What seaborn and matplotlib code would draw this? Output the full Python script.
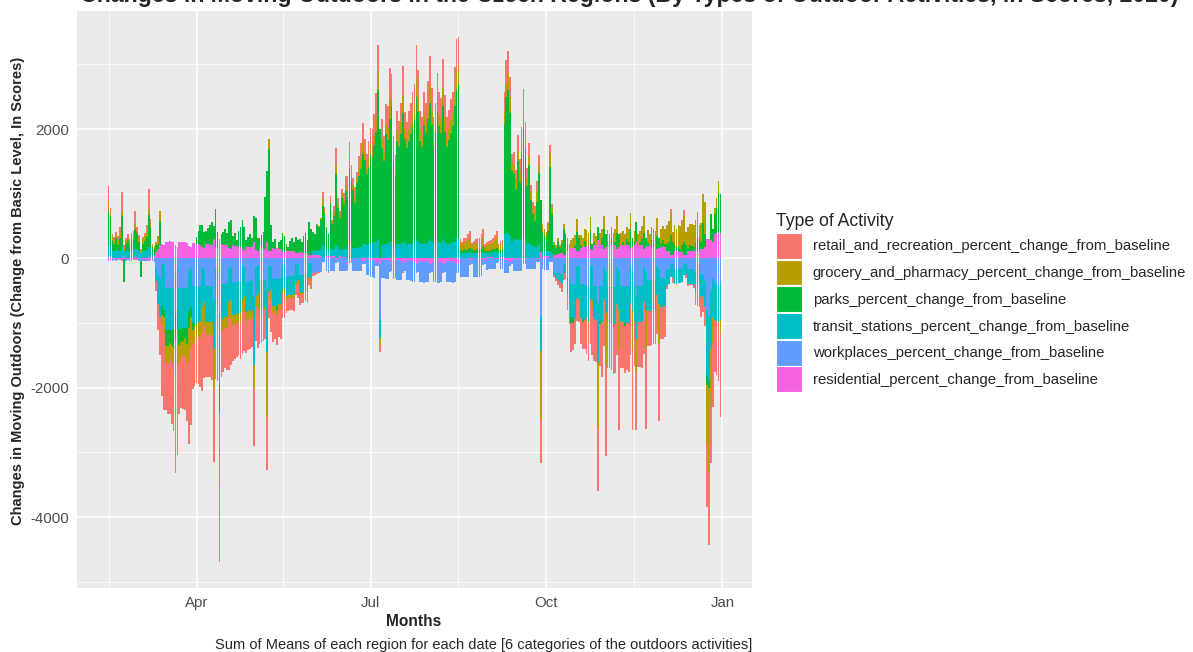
#!/usr/bin/env python
# -*- coding: utf-8 -*-

import numpy as np
import pandas as pd
import matplotlib
matplotlib.use("Agg")
import matplotlib.pyplot as plt
import matplotlib.dates as mdates
from matplotlib.patches import Patch
import seaborn

# daily dates: Sat 15 Feb 2020 .. Thu 31 Dec 2020
dates = pd.date_range("2020-02-15", "2020-12-31", freq="D")

categories = [
    "retail_and_recreation_percent_change_from_baseline",
    "grocery_and_pharmacy_percent_change_from_baseline",
    "parks_percent_change_from_baseline",
    "transit_stations_percent_change_from_baseline",
    "workplaces_percent_change_from_baseline",
    "residential_percent_change_from_baseline",
]
colors = ["#F8766D", "#B79F00", "#00BA38", "#00BFC4", "#619CFF", "#F564E3"]

# first row: Sat/Sun 15-16 Feb, then one row per week (Mon..Sun), last row Mon-Thu 28-31 Dec
retail = [
    280, 100,
    40, 50, 30, 60, 80, 280, 60,
    30, 40, 50, 40, 70, 200, 60,
    40, 20, 40, 50, 90, 300, 80,
    20, 0, -150, -400, -600, -1100, -1200,
    -750, -800, -850, -950, -1000, -1500, -1400,
    -800, -780, -800, -850, -900, -1300, -1200,
    -700, -700, -700, -720, -750, -900, -800,
    -650, -650, -650, -700, -1150, -850, -800,
    -1170, -700, -650, -620, -650, -800, -700,
    -550, -550, -530, -520, -550, -650, -600,
    -500, -480, -470, -470, -900, -550, -600,
    -450, -440, -430, -450, -820, -400, -500,
    -450, -430, -450, -420, -450, -380, -350,
    -200, -200, -190, -190, -200, -180, -200,
    -150, -140, -140, -130, -150, -100, -120,
    -50, -40, -30, -20, 0, 100, 50,
    0, -20, 50, 20, 80, 250, 100,
    50, 80, 100, 150, 200, 250, 150,
    100, 150, 100, 200, 250, 300, 200,
    200, 250, 250, 300, 300, 350, 400,
    -100, 300, 250, 300, 350, 500, 300,
    250, 200, 300, 250, 300, 450, 250,
    250, 300, 300, 350, 350, 500, 400,
    300, 300, 350, 300, 400, 450, 350,
    300, 300, 400, 350, 350, 450, 350,
    300, 300, 350, 350, 400, 500, 450,
    60, 50, 60, 70, 90, 120, 40,
    50, 60, 60, 70, 90, 130, 40,
    40, 50, 50, 60, 80, 120, 40,
    40, 50, 300, 350, 350, 300, 150,
    200, 150, 250, 200, 250, 350, 250,
    150, 200, 100, 80, 100, 150, 150,
    -680, 20, 0, 0, 30, 150, 50,
    -30, -50, -80, -100, -120, -100, -100,
    -250, -350, -450, -420, -400, -350, -380,
    -400, -420, -450, -550, -600, -700, -750,
    -650, -650, -1000, -650, -850, -700, -1400,
    -700, -700, -720, -720, -750, -800, -1250,
    -700, -700, -720, -720, -750, -800, -1250,
    -700, -900, -700, -700, -720, -800, -1250,
    -550, -550, -540, -530, -530, -600, -1200,
    -500, -500, -480, -50, 0, 50, -100,
    0, -20, 0, 20, 50, 100, -50,
    -30, -20, -20, -50, -200, -300, -350,
    -300, -250, -300, -1000, -1130, -860, -1000,
    -800, -850, -900, -1300,
]

grocery = [
    100, 40,
    60, 50, 60, 70, 90, 80, 30,
    50, 60, 50, 60, 80, 80, 30,
    60, 40, 60, 70, 100, 100, 40,
    40, 50, 60, 150, 150, -150, -250,
    -250, -250, -250, -260, -280, -550, -550,
    -260, -250, -250, -260, -280, -500, -480,
    -220, -220, -220, -230, -250, -400, -380,
    -200, -200, -200, -200, -600, -300, -400,
    -1150, -200, -180, -170, -180, -250, -300,
    -150, -140, -140, -130, -150, -200, -250,
    -130, -120, -120, -110, -350, -150, -250,
    -100, -100, -90, -50, -1000, 150, -150,
    -100, -90, -100, -90, -100, -50, -120,
    -60, -50, -50, -50, -60, -30, -80,
    -40, -30, -30, -30, -40, 0, -60,
    0, 10, 10, 20, 40, 120, 60,
    20, 10, 60, 40, 80, 150, 60,
    50, 60, 70, 90, 120, 150, 100,
    80, 100, 80, 120, 150, 180, 120,
    120, 140, 150, 150, 180, 250, 300,
    -120, 150, 140, 160, 180, 300, 200,
    150, 120, 160, 150, 180, 280, 180,
    150, 160, 170, 180, 200, 300, 250,
    160, 160, 180, 170, 200, 280, 220,
    160, 170, 200, 180, 190, 280, 220,
    160, 170, 180, 180, 200, 300, 250,
    110, 100, 110, 120, 140, 150, 60,
    110, 110, 110, 120, 140, 160, 60,
    100, 100, 110, 110, 130, 150, 60,
    100, 110, 200, 220, 250, 250, 120,
    150, 130, 160, 150, 180, 250, 180,
    130, 150, 120, 110, 130, 180, 130,
    -1060, 100, 100, 100, 120, 200, 100,
    50, 40, 40, 30, 50, 80, 40,
    100, 100, 120, 150, 150, 200, 50,
    150, 150, 180, 250, 200, 200, -100,
    150, 150, -1000, 200, 150, 200, -800,
    180, 170, 170, 180, 200, 250, -600,
    180, 170, 170, 180, 200, 250, -600,
    180, -500, 170, 180, 200, 250, -600,
    200, 190, 200, 220, 250, 280, -600,
    220, 220, 230, 300, 320, 350, 150,
    300, 300, 320, 330, 350, 400, 200,
    320, 330, 340, 350, 350, 400, 200,
    300, 450, 500, -900, -1300, -900, -400,
    100, 150, 200, -200,
]

parks = [
    550, 450,
    150, 120, 200, 100, 180, 480, -360,
    120, 150, 100, 180, 160, 300, 250,
    150, -250, 120, 150, 200, 500, 350,
    100, 80, 100, 50, 380, -150, -100,
    -250, -250, -200, -250, -300, -400, -300,
    -250, -200, -200, -150, -250, -250, -150,
    -100, -50, 100, 200, 300, 350, 250,
    200, 250, 300, 350, 200, 600, 250,
    -420, 150, 200, 250, 200, 400, 450,
    150, 200, 100, 250, 300, 450, 350,
    100, 150, 200, 150, 400, 500, 200,
    150, 200, 250, 800, 1100, 1570, 400,
    100, 150, -50, 100, 150, 300, 250,
    100, 50, 150, 200, 150, 250, 200,
    200, 150, 250, 300, 200, 500, 400,
    300, 250, 400, 350, 450, 600, 500,
    350, 250, 700, 400, 500, 1100, 600,
    500, 800, 700, 900, 800, 1200, 1000,
    900, 700, 1000, 1100, 1200, 1400, 1300,
    1100, 1200, 1400, 1300, 1500, 1700, 2300,
    2000, 1500, 1300, 1700, 1600, 1900, 2100,
    1300, 1100, 1600, 1500, 1700, 2000, 1600,
    1500, 1600, 1700, 1800, 1900, 2200, 2000,
    1600, 1500, 1800, 1700, 1900, 2100, 1800,
    1500, 1700, 2000, 1800, 1700, 2050, 1700,
    1500, 1600, 1700, 1800, 2100, 2300, 2400,
    40, 30, 50, 40, 60, 60, 50,
    30, 40, 50, 40, 60, 70, 40,
    30, 30, 40, 40, 50, 60, 50,
    40, 30, 1700, 2100, 2200, 1900, 1100,
    1000, 800, 1200, 900, 1300, 1700, 1400,
    900, 1200, 700, 500, 400, 700, 1100,
    800, 300, 250, 200, 300, 1300, 600,
    150, 100, 200, 100, 150, 400, 300,
    100, 0, -100, -80, 50, 300, 200,
    50, -50, 100, 0, -50, 300, 100,
    50, 0, 200, -50, 100, 300, 200,
    50, 0, 100, -50, 50, 250, 200,
    0, 50, -50, 100, 50, 300, 150,
    50, 300, 0, 50, 100, 250, 150,
    50, 0, 100, 50, 0, 200, 150,
    50, 100, 50, 100, 150, 300, 200,
    100, 50, 80, 50, 100, 200, 150,
    50, 100, 80, 50, 100, 200, 200,
    100, 400, 200, -150, -100, 400, 200,
    300, 400, 600, 600,
]

transit = [
    150, 150,
    120, 110, 120, 110, 130, 140, 80,
    110, 120, 100, 120, 120, 120, 100,
    110, 80, 110, 120, 130, 130, 100,
    60, 30, -200, -450, -600, -650, -700,
    -650, -660, -650, -650, -650, -660, -620,
    -640, -640, -630, -630, -640, -640, -600,
    -570, -570, -570, -560, -570, -580, -530,
    -560, -560, -560, -560, -750, -560, -540,
    -1100, -540, -530, -520, -520, -520, -500,
    -500, -500, -490, -480, -490, -480, -450,
    -470, -460, -460, -450, -1050, -450, -420,
    -440, -430, -430, -420, -1000, -400, -380,
    -420, -410, -420, -400, -400, -380, -350,
    -300, -300, -290, -290, -290, -270, -250,
    -280, -270, -270, -260, -260, -230, -220,
    50, 60, 70, 80, 100, 200, 180,
    80, 70, 120, 100, 120, 200, 180,
    100, 120, 120, 130, 150, 200, 200,
    150, 150, 160, 170, 180, 220, 220,
    200, 220, 220, 250, 250, 250, 300,
    -300, 200, 200, 220, 230, 250, 250,
    200, 180, 220, 220, 230, 250, 240,
    210, 220, 230, 240, 250, 300, 260,
    220, 220, 240, 230, 250, 300, 260,
    220, 230, 260, 250, 240, 300, 260,
    220, 230, 240, 250, 260, 300, 320,
    80, 70, 80, 80, 90, 100, 90,
    70, 80, 80, 80, 90, 100, 80,
    60, 70, 70, 80, 90, 100, 80,
    70, 80, 380, 400, 400, 350, 250,
    300, 280, 300, 280, 300, 320, 280,
    220, 240, 200, 180, 170, 170, 220,
    -530, 100, 80, 80, 90, 100, 80,
    -50, -80, -100, -120, -150, -150, -150,
    -250, -350, -500, -520, -530, -500, -500,
    -520, -530, -540, -500, -500, -500, -530,
    -520, -530, -900, -540, -550, -520, -650,
    -560, -560, -570, -570, -580, -560, -600,
    -560, -560, -570, -570, -570, -550, -600,
    -550, -650, -560, -560, -560, -540, -600,
    -480, -480, -470, -470, -470, -450, -550,
    -450, -450, -440, -250, -230, -200, -200,
    -220, -220, -210, -210, -200, -180, -180,
    -220, -220, -220, -230, -300, -350, -320,
    -350, -330, -400, -1000, -1000, -900, -600,
    -550, -560, -570, -550,
]

workplaces = [
    40, 40,
    -30, -20, -30, -20, -10, 40, 30,
    -30, -20, -30, -30, -20, 30, 40,
    -30, -40, -30, -30, -20, 40, 40,
    -40, -60, -150, -250, -300, -80, -100,
    -450, -450, -460, -450, -440, -200, -170,
    -450, -450, -450, -450, -440, -180, -150,
    -430, -430, -430, -430, -420, -170, -140,
    -420, -420, -420, -420, -650, -160, -150,
    -850, -400, -400, -390, -380, -150, -140,
    -380, -370, -370, -370, -360, -140, -130,
    -360, -350, -350, -340, -600, -130, -120,
    -340, -340, -330, -330, -450, -120, -110,
    -320, -320, -320, -310, -300, -110, -100,
    -280, -270, -270, -270, -260, -90, -80,
    -250, -250, -250, -240, -240, -80, -70,
    -220, -220, -210, -210, -210, -60, -60,
    -200, -200, -200, -190, -190, -50, -50,
    -190, -190, -190, -190, -180, -40, -40,
    -190, -190, -190, -190, -180, -40, -40,
    -250, -250, -260, -260, -270, -60, -60,
    -850, -280, -280, -290, -290, -150, -140,
    -300, -300, -300, -310, -300, -150, -140,
    -310, -310, -310, -320, -320, -150, -140,
    -320, -320, -330, -320, -320, -150, -140,
    -320, -330, -330, -330, -320, -150, -140,
    -320, -330, -330, -330, -320, -150, -140,
    -290, -290, -290, -290, -280, -80, -70,
    -280, -280, -280, -280, -270, -80, -70,
    -180, -170, -170, -170, -160, -60, -50,
    -160, -160, -200, -200, -190, -60, -50,
    -180, -180, -180, -180, -170, -50, -50,
    -170, -170, -170, -170, -160, -50, -50,
    -900, -170, -180, -180, -180, -50, -50,
    -200, -220, -230, -240, -250, -80, -70,
    -300, -320, -400, -400, -400, -120, -110,
    -400, -400, -410, -420, -430, -130, -120,
    -420, -420, -700, -430, -430, -130, -200,
    -440, -440, -440, -440, -440, -140, -200,
    -430, -430, -430, -430, -430, -140, -200,
    -420, -600, -420, -420, -420, -140, -190,
    -330, -330, -330, -330, -320, -120, -160,
    -300, -300, -300, -180, -170, -80, -80,
    -170, -170, -170, -170, -160, -70, -80,
    -170, -170, -170, -180, -220, -80, -80,
    -250, -250, -350, -800, -900, -500, -300,
    -400, -400, -420, -400,
]

residential = [
    -40, -30,
    -10, -10, -10, -10, -20, -40, -10,
    -10, -10, -10, -10, -10, -30, -20,
    -10, 0, -10, -10, -20, -40, -20,
    10, 30, 100, 150, 200, 220, 200,
    260, 260, 270, 260, 250, 200, 180,
    260, 250, 250, 250, 240, 190, 170,
    240, 240, 230, 220, 210, 170, 160,
    220, 220, 210, 210, 300, 170, 160,
    300, 220, 210, 200, 200, 160, 150,
    200, 190, 190, 180, 180, 140, 130,
    180, 180, 170, 170, 260, 130, 120,
    170, 160, 160, 150, 250, 120, 110,
    160, 150, 160, 150, 140, 100, 100,
    130, 120, 120, 120, 110, 80, 80,
    100, 100, 90, 90, 90, 60, 50,
    60, 60, 50, 50, 40, 10, 0,
    40, 50, 30, 40, 30, -20, -10,
    30, 20, 20, 10, 0, -30, -30,
    10, 10, 0, 0, -10, -40, -40,
    0, -10, -20, -20, -30, -50, -60,
    -80, -20, -20, -30, -30, -60, -60,
    -20, -10, -30, -30, -40, -70, -60,
    -30, -30, -40, -40, -50, -80, -70,
    -40, -40, -50, -40, -50, -80, -70,
    -40, -40, -50, -50, -50, -80, -70,
    -40, -40, -40, -50, -50, -80, -80,
    10, 10, 10, 10, 0, -20, -20,
    10, 10, 10, 10, 0, -20, -20,
    20, 20, 20, 20, 10, -10, -10,
    20, 20, -30, -30, -40, -50, -40,
    -10, -10, -10, -10, -20, -40, -30,
    0, 0, 10, 10, 10, -10, -10,
    100, 20, 30, 30, 30, 10, 10,
    50, 60, 70, 80, 90, 60, 60,
    120, 130, 160, 160, 160, 110, 110,
    160, 170, 170, 190, 200, 140, 130,
    200, 200, 280, 200, 210, 150, 170,
    210, 210, 210, 210, 210, 150, 170,
    210, 210, 210, 200, 200, 150, 170,
    200, 260, 200, 200, 200, 150, 170,
    190, 190, 180, 180, 180, 140, 160,
    180, 180, 180, 120, 110, 60, 60,
    110, 110, 110, 100, 100, 50, 60,
    110, 110, 110, 120, 140, 120, 120,
    150, 150, 180, 300, 300, 280, 250,
    380, 390, 400, 390,
]

mobility_df = pd.DataFrame(data={
    categories[0]: retail,
    categories[1]: grocery,
    categories[2]: parks,
    categories[3]: transit,
    categories[4]: workplaces,
    categories[5]: residential,
}, index=dates)

seaborn.set_theme(style="darkgrid", rc={
    "axes.facecolor": "#EBEBEB",
    "grid.color": "white",
})
plt.rcParams["font.family"] = ["Liberation Sans", "DejaVu Sans"]

figure = plt.figure(figsize=(11.93, 6.52), dpi=100)
ax = figure.add_axes([77 / 1193, 1 - 588 / 652, (752 - 77) / 1193, (588 - 11) / 652])

# ggplot-like stacking: last level closest to zero, positives and negatives stacked apart
pos_base = np.zeros(len(dates))
neg_base = np.zeros(len(dates))
for name, color in reversed(list(zip(categories, colors))):
    values = mobility_df[name].to_numpy(dtype=float)
    bottom = np.where(values >= 0, pos_base, neg_base)
    ax.bar(dates, values, bottom=bottom, width=0.9, color=color, linewidth=0)
    pos_base += np.clip(values, 0, None)
    neg_base += np.clip(values, None, 0)

ymin, ymax = neg_base.min(), pos_base.max()
pad = 0.05 * (ymax - ymin)
ax.set_ylim(ymin - pad, ymax + pad)

x0 = mdates.date2num(dates[0]) - 0.45
x1 = mdates.date2num(dates[-1]) + 0.45
xpad = 0.05 * (x1 - x0)
ax.set_xlim(x0 - xpad, x1 + xpad)

major_dates = pd.to_datetime(["2020-04-01", "2020-07-01", "2020-10-01", "2021-01-01"])
minor_dates = pd.to_datetime(["2020-02-15", "2020-05-16", "2020-08-16", "2020-11-16"])
ax.set_xticks(major_dates)
ax.set_xticklabels(["Apr", "Jul", "Oct", "Jan"])
ax.set_xticks(minor_dates, minor=True)
ax.set_yticks([-4000, -2000, 0, 2000])
ax.set_yticklabels(["-4000", "-2000", "0", "2000"])
ax.set_yticks([-5000, -3000, -1000, 1000, 3000], minor=True)

ax.grid(which="major", color="white", linewidth=1.1)
ax.grid(which="minor", color="white", linewidth=0.55)
ax.tick_params(which="major", length=3.5, width=0.8, color="#333333",
               labelcolor="#4D4D4D", labelsize=10.8, pad=2.5)
ax.tick_params(which="minor", length=0)
for spine in ax.spines.values():
    spine.set_visible(False)
ax.set_axisbelow(True)

figure.text(80 / 1193, 1 - 2 / 652,
            "Changes in Moving Outdoors in the Czech Regions (By Types of Outdoor Activities, in Scores, 2020)",
            fontsize=16.7, fontweight="bold", ha="left", va="baseline")
figure.text(18 / 1193, 1 - 291 / 652,
            "Changes in Moving Outdoors (Change from Basic Level, In Scores)",
            fontsize=10.5, fontweight="bold", rotation=90, ha="center", va="center")
figure.text(414 / 1193, 1 - 622 / 652, "Months", fontsize=11.2, fontweight="bold",
            ha="center", va="center")
figure.text(752 / 1193, 1 - 645 / 652,
            "Sum of Means of each region for each date [6 categories of the outdoors activities]",
            fontsize=10.5, ha="right", va="center")

handles = [Patch(facecolor=c, edgecolor="white", linewidth=0.8) for c in colors]
legend = figure.legend(handles, categories, loc="upper left",
                       bbox_to_anchor=(776 / 1193, 1 - 213 / 652),
                       title="Type of Activity", frameon=False,
                       fontsize=10.75, title_fontsize=12.7,
                       handlelength=1.74, handleheight=2.3,
                       labelspacing=0.05, handletextpad=0.72,
                       alignment="left", borderaxespad=0, borderpad=0)
legend._legend_box.sep = 2

plt.savefig("out.png", dpi=100)
